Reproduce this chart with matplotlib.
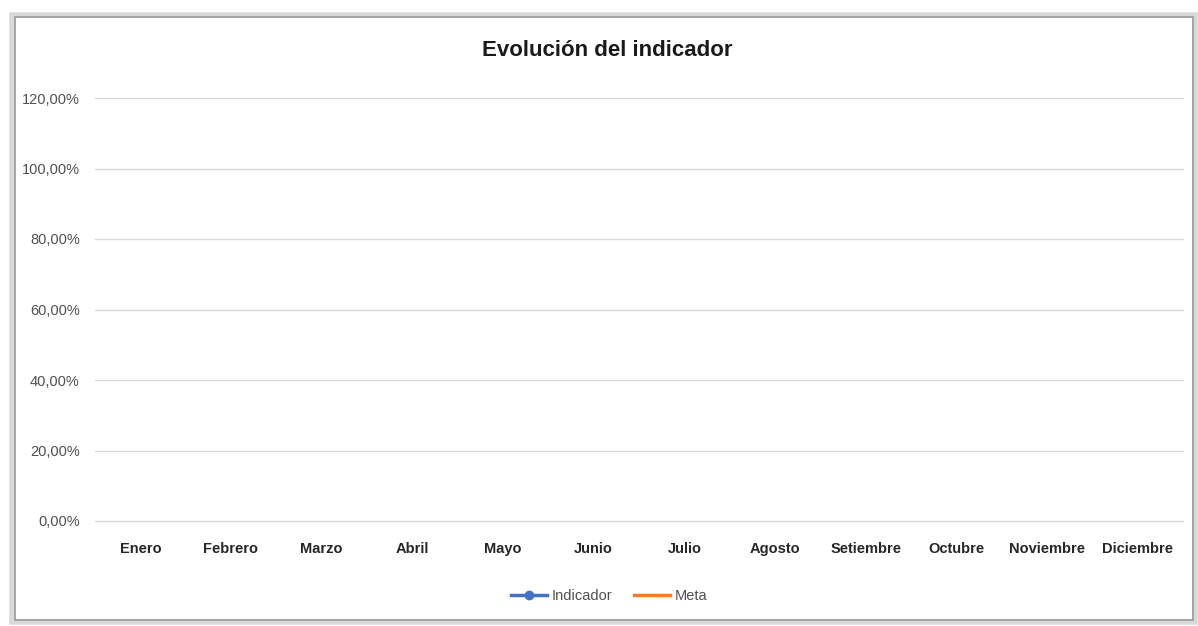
import numpy as np
import matplotlib.pyplot as plt
from matplotlib.patches import Rectangle
from matplotlib.ticker import FuncFormatter

meses = ['Enero', 'Febrero', 'Marzo', 'Abril', 'Mayo', 'Junio', 'Julio',
         'Agosto', 'Setiembre', 'Octubre', 'Noviembre', 'Diciembre']
# the chart has no data yet, both series are empty
indicador = [np.nan, np.nan, np.nan, np.nan, np.nan, np.nan,
             np.nan, np.nan, np.nan, np.nan, np.nan, np.nan]
meta = [np.nan, np.nan, np.nan, np.nan, np.nan, np.nan,
        np.nan, np.nan, np.nan, np.nan, np.nan, np.nan]
yticks = [0.0, 0.2, 0.4, 0.6, 0.8, 1.0, 1.2]

plt.rcParams['font.family'] = ['Liberation Sans', 'DejaVu Sans']

W, H = 1198, 626
fig = plt.figure(figsize=(W / 100, H / 100), dpi=100)

# grey frame around the chart (screenshot border)
fig.patches.append(Rectangle((12 / W, 1 - 622 / H), 1183 / W, 607 / H,
                             transform=fig.transFigure, fill=False,
                             edgecolor='#d9d9d9', lw=4))
fig.patches.append(Rectangle((15 / W, 1 - 620 / H), 1178 / W, 603 / H,
                             transform=fig.transFigure, fill=False,
                             edgecolor='#9a9a9a', lw=1.2))

ax = fig.add_axes([95 / W, 1 - 521 / H, (1183 - 95) / W, (521 - 98) / H])
x = np.arange(len(meses))
ax.plot(x, indicador, color='#4472c4', lw=2.5, marker='o', ms=6, label='Indicador')
ax.plot(x, meta, color='#ed7d31', lw=2.5, label='Meta')

ax.set_xlim(-0.5, len(meses) - 0.5)
ax.set_ylim(0, 1.2)
ax.set_yticks(yticks)
ax.yaxis.set_major_formatter(FuncFormatter(lambda v, p: f'{v * 100:.2f}%'.replace('.', ',')))
ax.set_xticks(x)
ax.set_xticklabels(meses, fontsize=10.5, fontweight='bold', color='#262626')
ax.tick_params(axis='y', labelsize=10.5, labelcolor='#505050', length=0, pad=11)
ax.tick_params(axis='x', length=0, pad=15)
ax.grid(axis='y', color='#d9d9d9', lw=1)
for gl in ax.get_ygridlines():
    gl.set_clip_on(False)
for s in ax.spines.values():
    s.set_visible(False)

fig.text(607 / W, 1 - 50 / H, 'Evolución del indicador', ha='center', va='center',
         fontsize=16, fontweight='bold', color='#1a1a1a')

fig.legend(loc='center', bbox_to_anchor=(609 / W, 1 - 596 / H), ncol=2,
           frameon=False, fontsize=10.5, handlelength=2.5, handletextpad=0.3,
           columnspacing=1.5, labelcolor='#505050')

fig.savefig('out.png', dpi=100)
